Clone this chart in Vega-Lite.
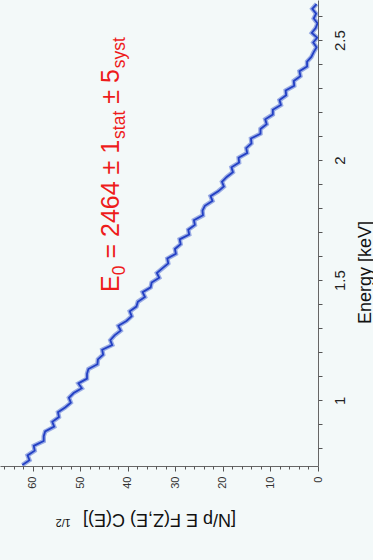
{
  "$schema": "https://vega.github.io/schema/vega-lite/v6.json",
  "width": 318,
  "height": 466,
  "autosize": {"type": "none"},
  "padding": {"left": 0, "top": 0, "right": 55, "bottom": 94},
  "background": "#f3f9f9",
  "config": {
    "view": {"stroke": null},
    "font": "Liberation Sans",
    "axis": {"grid": false, "domainColor": "#666", "tickColor": "#555", "labelFont": "Liberation Sans", "titleFont": "Liberation Sans", "titleFontWeight": "normal"}
  },
  "resolve": {"axis": {"x": "independent", "y": "independent"}},
  "datasets": {
    "kurie": [
      {"E":0.73,"v":62.2},{"E":0.75,"v":60.7},{"E":0.77,"v":61.1},{"E":0.79,"v":59.6},{"E":0.81,"v":59.8},
      {"E":0.83,"v":57.7},{"E":0.85,"v":57.7},{"E":0.87,"v":57.4},{"E":0.89,"v":55.5},{"E":0.91,"v":55.9},
      {"E":0.93,"v":54.5},{"E":0.95,"v":54.7},{"E":0.97,"v":53.2},{"E":0.99,"v":52.0},{"E":1.01,"v":52.4},
      {"E":1.03,"v":51.4},{"E":1.05,"v":49.7},{"E":1.07,"v":50.4},{"E":1.09,"v":48.6},{"E":1.11,"v":48.6},
      {"E":1.13,"v":48.3},{"E":1.15,"v":46.4},{"E":1.17,"v":46.3},{"E":1.19,"v":45.2},{"E":1.21,"v":45.4},
      {"E":1.23,"v":43.3},{"E":1.25,"v":43.7},{"E":1.27,"v":42.8},{"E":1.29,"v":41.5},{"E":1.31,"v":42.0},
      {"E":1.33,"v":40.3},{"E":1.35,"v":39.2},{"E":1.37,"v":39.6},{"E":1.39,"v":38.2},{"E":1.41,"v":37.9},
      {"E":1.43,"v":36.4},{"E":1.45,"v":36.9},{"E":1.47,"v":35.2},{"E":1.49,"v":35.0},{"E":1.51,"v":33.4},
      {"E":1.53,"v":33.9},{"E":1.55,"v":32.7},{"E":1.57,"v":31.5},{"E":1.59,"v":31.7},{"E":1.61,"v":29.9},
      {"E":1.63,"v":30.1},{"E":1.65,"v":28.9},{"E":1.67,"v":29.1},{"E":1.69,"v":27.1},{"E":1.71,"v":27.3},
      {"E":1.73,"v":25.9},{"E":1.75,"v":26.1},{"E":1.77,"v":24.2},{"E":1.79,"v":24.3},{"E":1.81,"v":23.8},
      {"E":1.83,"v":22.2},{"E":1.85,"v":22.6},{"E":1.87,"v":21.0},{"E":1.89,"v":19.8},{"E":1.91,"v":20.2},
      {"E":1.93,"v":19.2},{"E":1.95,"v":17.9},{"E":1.97,"v":18.2},{"E":1.99,"v":16.6},{"E":2.01,"v":16.7},
      {"E":2.03,"v":14.9},{"E":2.05,"v":15.1},{"E":2.07,"v":14.0},{"E":2.09,"v":14.1},{"E":2.11,"v":12.1},
      {"E":2.13,"v":12.1},{"E":2.15,"v":10.8},{"E":2.17,"v":11.1},{"E":2.19,"v":9.5},{"E":2.21,"v":9.5},
      {"E":2.23,"v":7.8},{"E":2.25,"v":8.1},{"E":2.27,"v":6.7},{"E":2.29,"v":6.8},{"E":2.31,"v":5.0},
      {"E":2.33,"v":5.1},{"E":2.35,"v":3.7},{"E":2.37,"v":3.9},{"E":2.39,"v":2.3},{"E":2.41,"v":2.3},
      {"E":2.43,"v":1.4},{"E":2.45,"v":0.9},{"E":2.47,"v":0.3},{"E":2.49,"v":1.0},{"E":2.51,"v":0.2},
      {"E":2.53,"v":1.3},{"E":2.55,"v":0.5},{"E":2.57,"v":0.1},{"E":2.59,"v":0.9},{"E":2.61,"v":0.4},
      {"E":2.63,"v":1.2},{"E":2.65,"v":0.3}
    ],
    "one": [{}]
  },
  "layer": [
    {
      "data": {"name": "kurie"},
      "mark": {"type": "line", "color": "#4f6bd4", "strokeWidth": 4.5, "opacity": 0.55, "clip": true},
      "encoding": {
        "x": {
          "field": "v", "type": "quantitative",
          "scale": {"domain": [0, 66.9], "reverse": true, "nice": false, "zero": false},
          "axis": {
            "orient": "bottom",
            "title": "[N/p E F(Z,E) C(E)]",
            "titleAngle": 180,
            "titleFontSize": 18,
            "titleColor": "#111",
            "titleY": 52,
            "titleBaseline": "middle",
            "values": [0,10,20,30,40,50,60],
            "format": "d",
            "labelOverlap": false,
            "labelFlush": false,
            "labelAngle": -90,
            "labelFontSize": 11,
            "labelColor": "#333",
            "tickSize": 5,
            "labelPadding": 5
          }
        },
        "y": {
          "field": "E", "type": "quantitative",
          "scale": {"domain": [0.726, 2.667], "nice": false, "zero": false},
          "axis": {
            "orient": "right",
            "title": "Energy [keV]",
            "titleAngle": -90,
            "titleFontSize": 18,
            "titleColor": "#111",
            "titleY": 272,
            "titleX": 47,
            "titleBaseline": "middle",
            "values": [1, 1.5, 2, 2.5],
            "format": "~g",
            "labelOverlap": false,
            "labelFlush": false,
            "labelAngle": -90,
            "labelFontSize": 15,
            "labelColor": "#222",
            "tickSize": 4,
            "labelPadding": 10
          }
        },
        "order": {"field": "E", "type": "quantitative"}
      }
    },
    {
      "data": {"name": "kurie"},
      "mark": {"type": "line", "color": "#2340c4", "strokeWidth": 1.8, "clip": true},
      "encoding": {
        "x": {"field": "v", "type": "quantitative", "axis": {"orient": "bottom", "values": [2,4,6,8,12,14,16,18,22,24,26,28,32,34,36,38,42,44,46,48,52,54,56,58,62,64,66], "labels": false, "domain": false, "title": null, "tickSize": 3}},
        "y": {"field": "E", "type": "quantitative", "axis": {"orient": "right", "values": [0.7,0.8,0.9,1.1,1.2,1.3,1.4,1.6,1.7,1.8,1.9,2.1,2.2,2.3,2.4,2.6], "labels": false, "domain": false, "title": null, "tickSize": 4}},
        "order": {"field": "E", "type": "quantitative"}
      }
    },
    {
      "data": {"name": "one"},
      "mark": {"type": "text", "text": "1/2", "angle": 180, "align": "center", "baseline": "middle", "fontSize": 11, "color": "#111"},
      "encoding": {"x": {"datum": 53.6, "type": "quantitative", "axis": null}, "y": {"datum": 0.493, "type": "quantitative", "axis": null}}
    },
    {
      "data": {"name": "one"},
      "mark": {"type": "text", "text": "E", "angle": -90, "align": "left", "baseline": "alphabetic", "fontSize": 25, "color": "#ee1c1c"},
      "encoding": {"x": {"datum": 41.9, "type": "quantitative", "axis": null}, "y": {"datum": 1.451, "type": "quantitative", "axis": null}}
    },
    {
      "data": {"name": "one"},
      "mark": {"type": "text", "text": "0", "angle": -90, "align": "left", "baseline": "alphabetic", "fontSize": 17.5, "color": "#ee1c1c", "dx": 16.7, "dy": 6},
      "encoding": {"x": {"datum": 41.9, "type": "quantitative", "axis": null}, "y": {"datum": 1.451, "type": "quantitative", "axis": null}}
    },
    {
      "data": {"name": "one"},
      "mark": {"type": "text", "text": "= 2464 ± 1", "angle": -90, "align": "left", "baseline": "alphabetic", "fontSize": 25, "color": "#ee1c1c", "dx": 33.4},
      "encoding": {"x": {"datum": 41.9, "type": "quantitative", "axis": null}, "y": {"datum": 1.451, "type": "quantitative", "axis": null}}
    },
    {
      "data": {"name": "one"},
      "mark": {"type": "text", "text": "stat", "angle": -90, "align": "left", "baseline": "alphabetic", "fontSize": 17.5, "color": "#ee1c1c", "dx": 153.0, "dy": 6},
      "encoding": {"x": {"datum": 41.9, "type": "quantitative", "axis": null}, "y": {"datum": 1.451, "type": "quantitative", "axis": null}}
    },
    {
      "data": {"name": "one"},
      "mark": {"type": "text", "text": "± 5", "angle": -90, "align": "left", "baseline": "alphabetic", "fontSize": 25, "color": "#ee1c1c", "dx": 188.2},
      "encoding": {"x": {"datum": 41.9, "type": "quantitative", "axis": null}, "y": {"datum": 1.451, "type": "quantitative", "axis": null}}
    },
    {
      "data": {"name": "one"},
      "mark": {"type": "text", "text": "syst", "angle": -90, "align": "left", "baseline": "alphabetic", "fontSize": 17.5, "color": "#ee1c1c", "dx": 223.7, "dy": 6},
      "encoding": {"x": {"datum": 41.9, "type": "quantitative", "axis": null}, "y": {"datum": 1.451, "type": "quantitative", "axis": null}}
    }
  ]
}
